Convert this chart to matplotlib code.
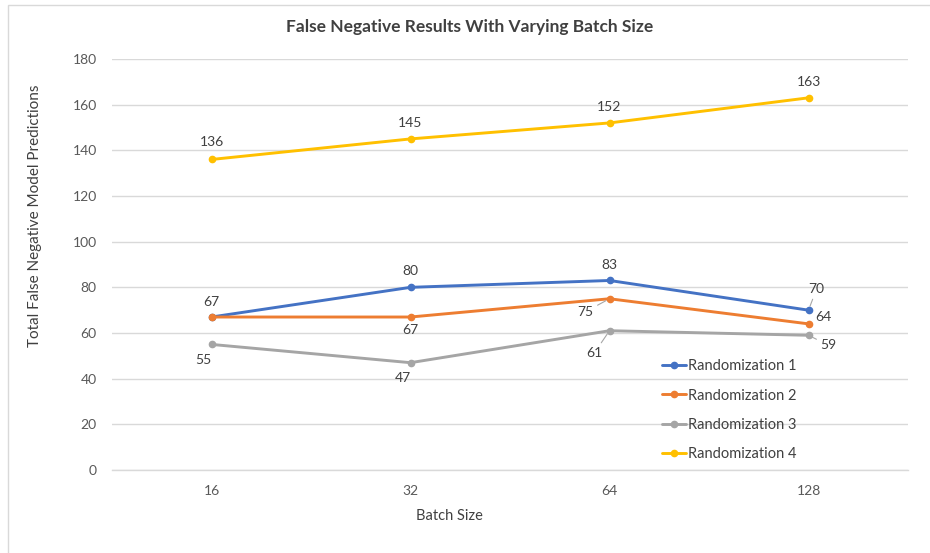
import matplotlib
matplotlib.use("Agg")
import matplotlib.pyplot as plt
from matplotlib.patches import Rectangle

# ---- data ----
batch_sizes = ["16", "32", "64", "128"]
series_names = ["Randomization 1", "Randomization 2", "Randomization 3", "Randomization 4"]
rand1 = [67, 80, 83, 70]
rand2 = [67, 67, 75, 64]
rand3 = [55, 47, 61, 59]
rand4 = [136, 145, 152, 163]
y_ticks = [0, 20, 40, 60, 80, 100, 120, 140, 160, 180]

colors = ["#4472C4", "#ED7D31", "#A5A5A5", "#FFC000"]

# label offsets in pixels (dx, dy), None = no label; flag = leader line
label_offsets = [
    [(0, 15), (0, 16), (0, 15), (8, 21)],
    [None, (0, -13), (-24, -13), (15, 7)],
    [(-8, -16), (-8, -15), (-15, -22), (20, -10)],
    [(0, 17), (0, 16), (0, 16), (0, 16)],
]
leaders = [
    [False, False, False, True],
    [False, False, True, False],
    [False, False, True, True],
    [False, False, False, False],
]

plt.rcParams['font.family'] = ['Lato', 'DejaVu Sans']

fig = plt.figure(figsize=(9.3, 5.53), dpi=100)
W, H = 930, 553
ax = fig.add_axes([112 / W, 1 - 470 / H, (908 - 112) / W, (470 - 59) / H])

# chart border
fig.patches.append(Rectangle((8 / W, -0.1), 1.2, 1 - 5 / H + 0.1, transform=fig.transFigure,
                             fill=False, edgecolor="#D9D9D9", lw=1.0, zorder=0))

x = list(range(len(batch_sizes)))
all_series = [rand1, rand2, rand3, rand4]
for s, (vals, name, c) in enumerate(zip(all_series, series_names, colors)):
    ax.plot(x, vals, color=c, lw=2.1, marker="o", markersize=4.5, label=name, zorder=3,
            solid_capstyle="round")
    for i, v in enumerate(vals):
        off = label_offsets[s][i]
        if off is None:
            continue
        kw = {}
        if leaders[s][i]:
            kw["arrowprops"] = dict(arrowstyle="-", color="#A6A6A6", lw=0.8,
                                    shrinkA=1, shrinkB=3)
        ax.annotate(str(v), xy=(i, v), xytext=off, textcoords="offset pixels",
                    ha="center", va="center", fontsize=10, color="#404040", zorder=4, **kw)

ax.set_xlim(-0.5, 3.5)
ax.set_ylim(0, 180)
ax.set_yticks(y_ticks)
ax.set_xticks(x)
ax.set_xticklabels(batch_sizes)
ax.grid(axis="y", color="#D9D9D9", lw=1.0, zorder=0)
ax.set_axisbelow(True)
for sp in ["top", "right", "left"]:
    ax.spines[sp].set_visible(False)
ax.spines["bottom"].set_color("#D9D9D9")
ax.spines["bottom"].set_linewidth(1.0)
ax.tick_params(axis="both", length=0, labelsize=10, colors="#595959")
ax.tick_params(axis="y", pad=11)
ax.tick_params(axis="x", pad=11)

fig.text(470 / W, 1 - 27 / H, "False Negative Results With Varying Batch Size",
         ha="center", va="center", fontsize=12.5, fontweight="bold", color="#404040")
fig.text(35 / W, 1 - 216 / H, "Total False Negative Model Predictions", rotation=90,
         ha="center", va="center", fontsize=11, color="#404040")
fig.text(449 / W, 1 - 516 / H, "Batch Size", ha="center", va="center",
         fontsize=10.5, color="#404040")

leg = ax.legend(loc="upper left", bbox_to_anchor=((655 - 112) / 796, (470 - 352) / 411),
                frameon=False, fontsize=10.5, handlelength=1.6, handletextpad=0.15,
                labelspacing=1.05, labelcolor="#404040", borderpad=0)

fig.savefig("out.png", dpi=100, facecolor="white")
